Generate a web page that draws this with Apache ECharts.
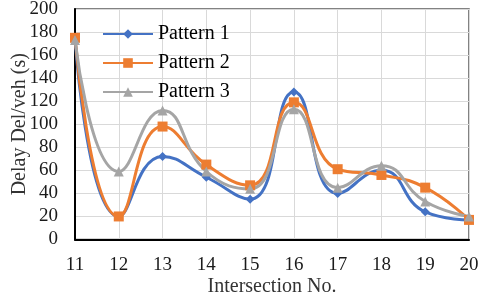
<!DOCTYPE html>
<html>
<head>
<meta charset="utf-8">
<script src="https://cdn.jsdelivr.net/npm/echarts@6/dist/echarts.min.js"></script>
<style>html,body{margin:0;padding:0;background:#fff;}#c{width:480px;height:298px;}</style>
</head>
<body>
<div id="c"></div>
<script>
var categories = ['11','12','13','14','15','16','17','18','19','20'];
var pattern1 = [175, 20, 72, 54, 35, 128, 40, 60, 24, 17];
var pattern2 = [175, 20, 98, 65, 47, 119, 61, 56, 45, 17];
var pattern3 = [173, 59, 112, 59, 44, 113, 45, 64, 33, 20];
var seriesNames = ['Pattern 1', 'Pattern 2', 'Pattern 3'];

var font = '"Liberation Serif", "Times New Roman", serif';
var chart = echarts.init(document.getElementById('c'));
function mk(name, data, color, symbol, size) {
  return {
    name: name, type: 'line', data: data, smooth: 0.5,
    symbol: symbol, symbolSize: size,
    lineStyle: {color: color, width: 3},
    itemStyle: {color: color},
    z: 3
  };
}
chart.setOption({
  animation: false,
  textStyle: {fontFamily: font},
  grid: {left: 75, right: 11, top: 9, bottom: 58.5, show: true, borderColor: '#595959', borderWidth: 1.5,
         containLabel: false, outerBoundsMode: 'none'},
  legend: {
    orient: 'vertical', left: 97, top: 19, itemGap: 9, itemWidth: 50, itemHeight: 12,
    data: seriesNames,
    textStyle: {fontFamily: font, fontSize: 20, color: '#000'}
  },
  xAxis: {
    type: 'category', data: categories, boundaryGap: false,
    axisLine: {lineStyle: {color: '#000', width: 2}},
    axisTick: {show: false},
    axisLabel: {fontFamily: font, fontSize: 19, color: '#1a1a1a', margin: 16},
    splitLine: {show: true, lineStyle: {color: '#d9d9d9', width: 1}},
    name: 'Intersection No.', nameLocation: 'middle', nameGap: 37, nameMoveOverlap: false,
    nameTextStyle: {fontFamily: font, fontSize: 20, color: '#333'}
  },
  yAxis: {
    type: 'value', min: 0, max: 200, interval: 20,
    axisLine: {show: true, lineStyle: {color: '#000', width: 2}},
    axisTick: {show: false},
    axisLabel: {fontFamily: font, fontSize: 19, color: '#1a1a1a', margin: 17},
    splitLine: {show: true, lineStyle: {color: '#d9d9d9', width: 1}},
    name: 'Delay Del/veh (s)', nameLocation: 'middle', nameGap: 45, nameMoveOverlap: false,
    nameTextStyle: {fontFamily: font, fontSize: 20, color: '#333'}
  },
  series: [
    mk(seriesNames[0], pattern1, '#4472C4', 'diamond', 9),
    mk(seriesNames[1], pattern2, '#ED7D31', 'rect', 10),
    mk(seriesNames[2], pattern3, '#A5A5A5', 'triangle', 10)
  ]
});
</script>
</body>
</html>
